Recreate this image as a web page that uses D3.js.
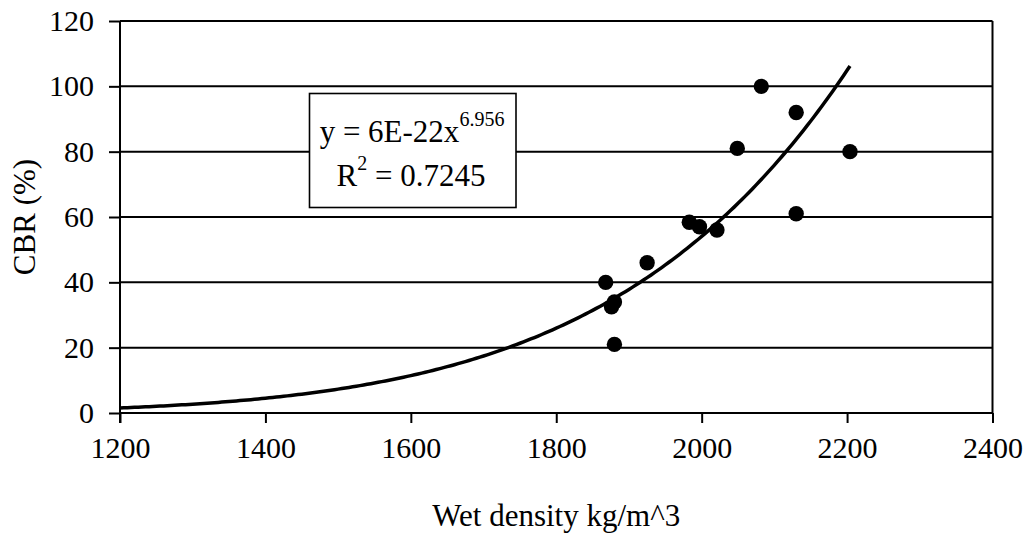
<!DOCTYPE html>
<html>
<head>
<meta charset="utf-8">
<script src="https://cdn.jsdelivr.net/npm/d3@7"></script>
<style>
  html, body { margin: 0; padding: 0; background: #fff; }
  svg { display: block; }
  text { font-family: "Liberation Serif", "Times New Roman", serif; fill: #000; }
</style>
</head>
<body>
<div id="chart"></div>
<script>
// Data
const density = [1868, 1880, 1876, 1880, 1925, 1983, 1997, 2021, 2049, 2082, 2130, 2130, 2204];
const cbr     = [40, 34, 32.5, 21, 46, 58.4, 57, 56, 81, 100, 92, 61, 80];
const xTicks = [1200, 1400, 1600, 1800, 2000, 2200, 2400];
const yTicks = [0, 20, 40, 60, 80, 100, 120];
// Power trendline shown on chart: y = a * x^b (a displayed rounded as 6E-22)
const trendCoef = [5.9e-22, 6.956];
const trendLabel = ["y = 6E-22x", "6.956", "R", "2", " = 0.7245"];

const W = 1031, H = 536;
const m = { left: 120, right: 1031 - 992.5, top: 21, bottom: 536 - 413 };

const svg = d3.select("#chart").append("svg").attr("width", W).attr("height", H);

const x = d3.scaleLinear().domain([1200, 2400]).range([m.left, W - m.right]);
const y = d3.scaleLinear().domain([0, 120]).range([H - m.bottom, m.top]);

// gridlines
svg.append("g").selectAll("line").data(yTicks.filter(d => d > 0)).join("line")
  .attr("x1", x(1200)).attr("x2", x(2400))
  .attr("y1", d => y(d)).attr("y2", d => y(d))
  .attr("stroke", "#000").attr("stroke-width", 2);

// right border
svg.append("line")
  .attr("x1", x(2400)).attr("x2", x(2400)).attr("y1", y(0)).attr("y2", y(120))
  .attr("stroke", "#000").attr("stroke-width", 2);

// axes
const xAxis = d3.axisBottom(x).tickValues(xTicks).tickSize(10).tickPadding(14).tickFormat(d3.format("d"));
const gx = svg.append("g").attr("transform", `translate(0,${y(0)})`).call(xAxis);
gx.select(".domain").attr("stroke-width", 2).attr("d", `M${x(1200)},0H${x(2400)}`);
gx.selectAll(".tick line").attr("stroke-width", 2);
gx.selectAll("text").attr("font-size", 30).attr("font-family", "Liberation Serif");

const yAxis = d3.axisLeft(y).tickValues(yTicks).tickSize(11).tickPadding(15);
const gy = svg.append("g").attr("transform", `translate(${x(1200)},0)`).call(yAxis);
gy.select(".domain").attr("stroke-width", 2).attr("d", `M0,${y(0) + 10}V${y(120)}`);
gy.selectAll(".tick line").attr("stroke-width", 2);
gy.selectAll("text").attr("font-size", 30).attr("font-family", "Liberation Serif");

// points
const pts = density.map((d, i) => [d, cbr[i]]);
svg.append("g").selectAll("circle").data(pts).join("circle")
  .attr("cx", d => x(d[0])).attr("cy", d => y(d[1])).attr("r", 7.7).attr("fill", "#000");

// trendline
const xmax = d3.max(density);
const curve = d3.range(1200, xmax + 0.001, 5).concat([xmax]).map(v => [v, trendCoef[0] * Math.pow(v, trendCoef[1])]);
svg.append("path").datum(curve)
  .attr("d", d3.line().x(d => x(d[0])).y(d => y(d[1])))
  .attr("fill", "none").attr("stroke", "#000").attr("stroke-width", 3.5);

// equation box
svg.append("rect").attr("x", 309.5).attr("y", 93.5).attr("width", 206.5).attr("height", 114)
  .attr("fill", "#fff").attr("stroke", "#000").attr("stroke-width", 1.6);
const t1 = svg.append("text").attr("x", 412).attr("y", 141.5).attr("text-anchor", "middle").attr("font-size", 31);
t1.append("tspan").text(trendLabel[0]);
t1.append("tspan").attr("font-size", 20).attr("dy", -16).text(trendLabel[1]);
const t2 = svg.append("text").attr("x", 411).attr("y", 186).attr("text-anchor", "middle").attr("font-size", 31);
t2.append("tspan").text(trendLabel[2]);
t2.append("tspan").attr("font-size", 20).attr("dy", -16).text(trendLabel[3]);
t2.append("tspan").attr("dy", 16).text(trendLabel[4]);

// axis titles
svg.append("text").attr("x", (x(1200) + x(2400)) / 2).attr("y", 526).attr("text-anchor", "middle")
  .attr("font-size", 31).text("Wet density kg/m^3");
svg.append("text").attr("transform", `translate(35,${(y(0) + y(120)) / 2}) rotate(-90)`)
  .attr("text-anchor", "middle").attr("font-size", 31).text("CBR (%)");
</script>
</body>
</html>
